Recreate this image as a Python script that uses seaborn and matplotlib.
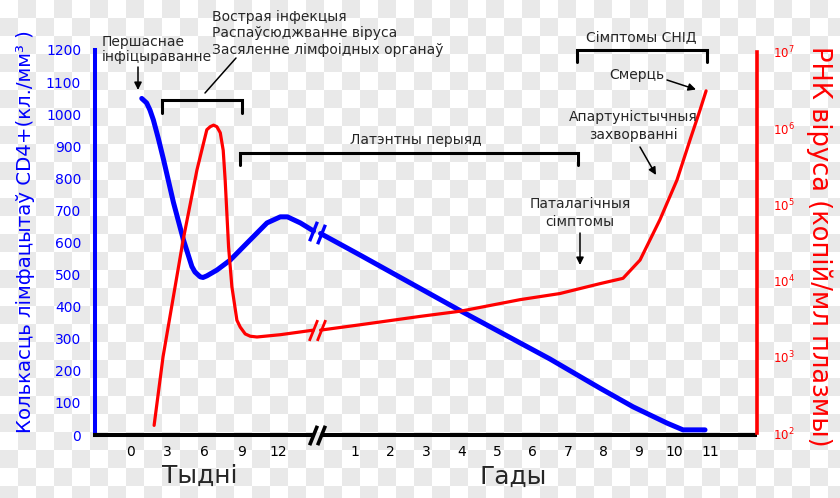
import numpy as np
import pandas as pd
import matplotlib
matplotlib.use('Agg')
import matplotlib.pyplot as plt
import seaborn as sns

W, H = 840, 498

# CD4 count (cells/mm3), first weeks after infection
cd4_weeks = [0.88, 1.28, 1.55, 1.83, 2.23, 2.65, 3.47, 4.29, 4.98, 5.23, 5.66, 5.89, 6.20, 7.02, 8.11,
             9.48, 11.12, 12.21, 12.79, 13.85, 14.92]
cd4_week_vals = [1049, 1035, 1013, 982, 925, 860, 725, 608, 525, 508, 493, 491, 496, 514, 545,
                 598, 661, 680, 680, 661, 636]
# CD4 count, years
cd4_years = [0.03, 1.14, 3.99, 6.49, 7.90, 8.83, 9.79, 10.24, 10.86]
cd4_year_vals = [628, 561, 386, 237, 146, 88, 37, 16, 16]

# viral RNA, log10 copies/ml
rna_weeks = [1.89, 2.62, 4.26, 5.39, 6.20, 6.48, 6.75, 7.02, 7.30, 7.54, 7.70, 7.98, 8.25, 8.66,
             8.93, 9.34, 9.75, 10.30, 12.21, 14.92]
rna_week_log = [2.10, 3.00, 4.53, 5.45, 5.98, 6.02, 6.04, 6.02, 5.94, 5.71, 5.32, 4.44, 3.92, 3.48,
                3.39, 3.30, 3.27, 3.26, 3.29, 3.35]
rna_years = [0.03, 1.14, 2.83, 3.99, 5.65, 6.77, 7.90, 8.55, 9.03, 9.59, 10.07, 10.44, 10.72, 10.89]
rna_year_log = [3.35, 3.42, 3.53, 3.60, 3.75, 3.83, 3.96, 4.03, 4.27, 4.80, 5.32, 5.85, 6.24, 6.49]

week_ticks = [0, 3, 6, 9, 12]
year_ticks = [1, 2, 3, 4, 5, 6, 7, 8, 9, 10, 11]
cd4_ticks = [0, 100, 200, 300, 400, 500, 600, 700, 800, 900, 1000, 1100, 1200]
rna_ticks = [1e2, 1e3, 1e4, 1e5, 1e6, 1e7]

# weeks are squeezed into the left part of the axis, years follow the break
W0, WS = -5.31, 0.3445


def wk(w):
    return W0 + WS * np.asarray(w, float)


def yr(y):
    return np.asarray(y, float)


def fpx(x, y):
    # image pixel (top-left origin) -> figure pixels
    return (x, H - y)


cd4_df = pd.concat([
    pd.DataFrame({'u': wk(cd4_weeks), 'cd4': cd4_week_vals, 'seg': 'weeks'}),
    pd.DataFrame({'u': yr(cd4_years), 'cd4': cd4_year_vals, 'seg': 'years'}),
])
rna_df = pd.concat([
    pd.DataFrame({'u': wk(rna_weeks), 'rna': 10 ** np.array(rna_week_log), 'seg': 'weeks'}),
    pd.DataFrame({'u': yr(rna_years), 'rna': 10 ** np.array(rna_year_log), 'seg': 'years'}),
])

sns.set_theme(style='white')
plt.rcParams['font.family'] = ['DejaVu Sans']

fig = plt.figure(figsize=(8.4, 4.98), dpi=100)
# transparent-background checkerboard as in the reference
yy, xx = np.indices((H, W))
cells = ((xx // 18 + yy // 18) % 2)[..., None]
bg = np.where(cells == 1, 0.915, 1.0) * np.ones(3)
fig.figimage(bg, xo=0, yo=0, origin='upper', zorder=-1)

ax = fig.add_axes([95 / W, (H - 435) / H, 662 / W, 385 / H])
ax.set_facecolor('none')
x_left = 1 + (95 - 355) / 35.5
x_right = 1 + (757 - 355) / 35.5

sns.lineplot(data=cd4_df, x='u', y='cd4', units='seg', estimator=None, color='#0000ff',
             lw=3.6, solid_capstyle='round', solid_joinstyle='round', ax=ax, legend=False)
ax.set_xlim(x_left, x_right)
ax.set_ylim(0, 1200)

ax2 = ax.twinx()
ax2.set_facecolor('none')
ax2.set_yscale('log')
sns.lineplot(data=rna_df, x='u', y='rna', units='seg', estimator=None, color='#ff0000',
             lw=2.3, solid_capstyle='round', solid_joinstyle='round', ax=ax2, legend=False)
ax2.set_ylim(10 ** (2 - 2 / 76.2), 10 ** (7 + 2 / 76.2))
ax2.set_xlim(x_left, x_right)

for s in ['top', 'right', 'bottom']:
    ax.spines[s].set_visible(False)
ax.spines['left'].set_color('#0000ff')
ax.spines['left'].set_linewidth(2.9)
for s in ['top', 'left', 'bottom']:
    ax2.spines[s].set_visible(False)
ax2.spines['right'].set_color('#ff0000')
ax2.spines['right'].set_linewidth(2.6)
ax2.spines['right'].set_bounds(1e2, 1e7)

ax.set_yticks(cd4_ticks)
ax.set_yticklabels([str(t) for t in cd4_ticks])
ax.tick_params(axis='y', length=0, pad=10, labelsize=10, labelcolor='#0000ff')
ax2.set_yticks(rna_ticks)
ax2.minorticks_off()
ax2.tick_params(axis='y', length=0, pad=11.5, labelsize=8.5, labelcolor='#ff0000')

ax.set_xticks(np.concatenate([wk(week_ticks), yr(year_ticks)]))
ax.set_xticklabels([str(t) for t in week_ticks] + [str(t) for t in year_ticks])
ax.tick_params(axis='x', length=0, pad=7, labelsize=10, labelcolor='black')
ax.set_xlabel('')
ax.set_ylabel('')
ax2.set_ylabel('')

# broken x axis
b0, b1 = float(wk(14.92)), 0.03
ax.plot([x_left - 0.05, b0], [0, 0], color='black', lw=2.9, clip_on=False, solid_capstyle='butt', zorder=5)
ax.plot([b1, x_right], [0, 0], color='black', lw=2.9, clip_on=False, solid_capstyle='butt', zorder=5)
slash = [(-0.4, -1), (0.4, 1)]
ax.plot([b0, b1], [0, 0], ls='none', marker=slash, ms=14, mew=2.6, color='black', clip_on=False, zorder=6)
ax.plot([b0, b1], [cd4_week_vals[-1], cd4_year_vals[0]], ls='none', marker=slash, ms=14,
        mew=2.4, color='#0000ff', clip_on=False)
ax2.plot([b0, b1], [10 ** rna_week_log[-1], 10 ** rna_year_log[0]], ls='none', marker=slash, ms=15,
         mew=2.0, color='#ff0000', clip_on=False)

# period brackets
brackets = [
    (float(wk(2.53)), float(wk(9.08)), 1044, 1004),
    (float(wk(8.91)), 7.28, 879, 842),
    (7.25, 10.92, 1200, 1163),
]
for x0, x1, top, bot in brackets:
    ax.plot([x0, x0, x1, x1], [bot, top, top, bot], color='black', lw=2.2, clip_on=False,
            solid_joinstyle='miter', zorder=4)

# axis titles
fig.text(26 / W, 1 - 232 / H, 'Колькасць лімфацытаў CD4+(кл./мм³ )', rotation=90,
         ha='center', va='center', color='#0000ff', fontsize=14.2)
fig.text(819 / W, 1 - 246 / H, 'РНК віруса (копій/мл плазмы)', rotation=-90,
         ha='center', va='center', color='#ff0000', fontsize=18.5)
fig.text(200 / W, 1 - 476 / H, 'Тыдні', ha='center', va='center', fontsize=18)
fig.text(513 / W, 1 - 477 / H, 'Гады', ha='center', va='center', fontsize=18)

# annotations
fs = 10
fig.text(102 / W, 1 - 49.5 / H, 'Першаснае\nінфіцыраванне', ha='left', va='center',
         fontsize=fs, linespacing=1.05)
fig.text(212 / W, 1 - 33.5 / H, 'Вострая інфекцыя\nРаспаўсюджванне віруса\nЗасяленне лімфоідных органаў',
         ha='left', va='center', fontsize=fs, linespacing=1.2)
fig.text(416 / W, 1 - 140 / H, 'Латэнтны перыяд', ha='center', va='center', fontsize=fs)
fig.text(641 / W, 1 - 38 / H, 'Сімптомы СНІД', ha='center', va='center', fontsize=fs)
fig.text(637 / W, 1 - 75 / H, 'Смерць', ha='center', va='center', fontsize=fs)
fig.text(633 / W, 1 - 126 / H, 'Апартуністычныя\nзахворванні', ha='center', va='center',
         fontsize=fs, linespacing=1.3)
fig.text(580 / W, 1 - 213 / H, 'Паталагічныя\nсімптомы', ha='center', va='center',
         fontsize=fs, linespacing=1.3)

arrows = [
    ((138, 67), (138, 90), '-|>'),
    ((205, 93), (236, 58), '-'),
    ((667, 80), (696, 89.5), '-|>'),
    ((640, 147), (656, 175), '-|>'),
    ((580, 233), (580, 265), '-|>'),
]
for tail, tip, style in arrows:
    ax.annotate('', xy=fpx(*tip), xytext=fpx(*tail), xycoords='figure pixels',
                textcoords='figure pixels', annotation_clip=False,
                arrowprops=dict(arrowstyle=style, color='black', lw=1.1, mutation_scale=11,
                                shrinkA=0, shrinkB=0))

fig.savefig('out.png', dpi=100)
